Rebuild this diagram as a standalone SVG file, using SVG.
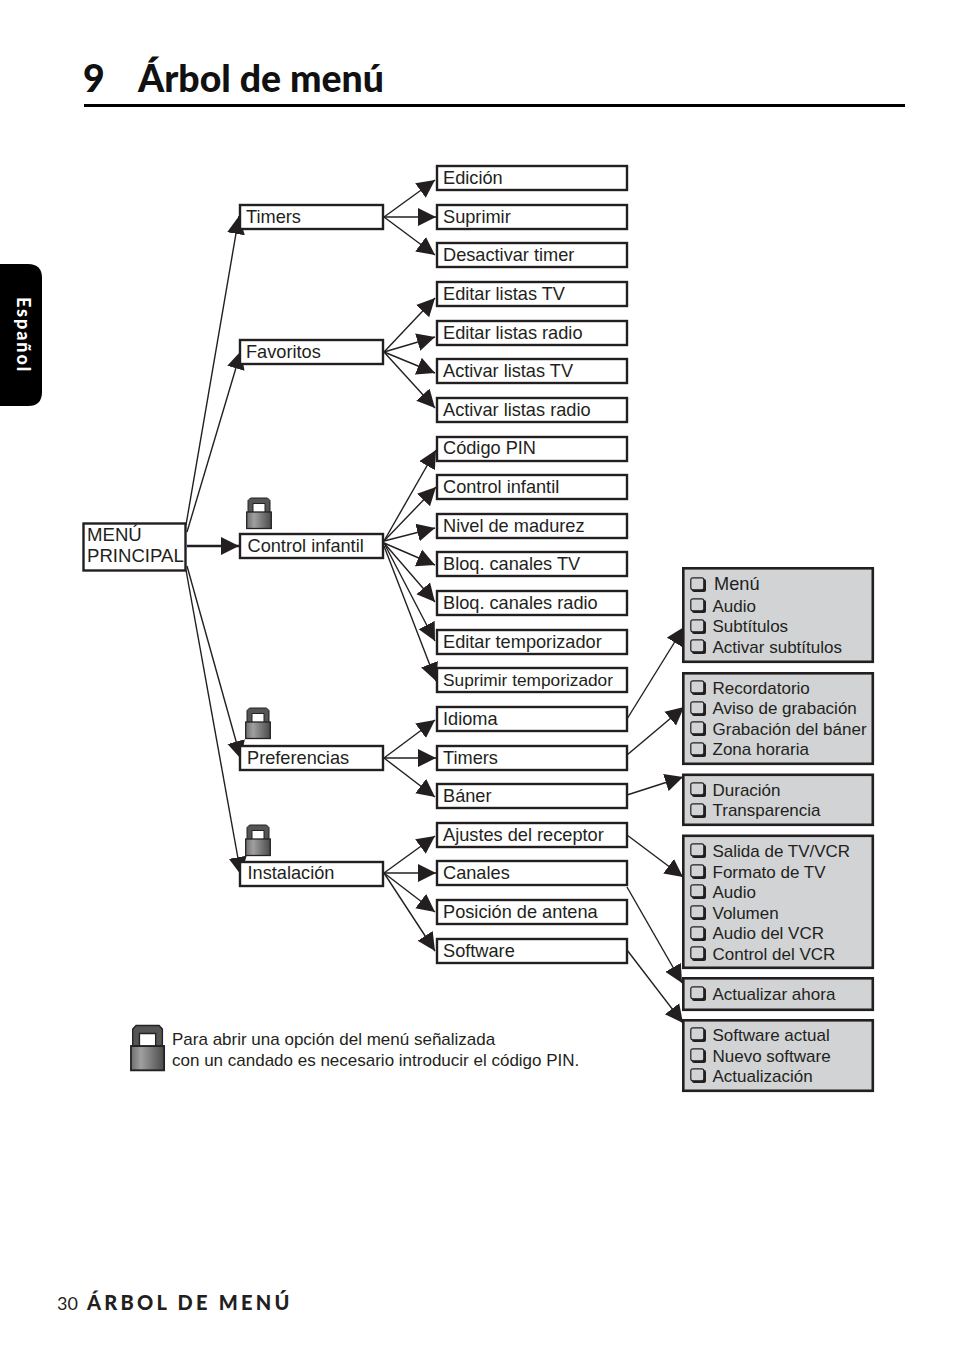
<svg xmlns="http://www.w3.org/2000/svg" width="954" height="1352" viewBox="0 0 954 1352">
<style>
text{font-family:"Liberation Sans",Arial,sans-serif;fill:#231f20}
.t{font-size:18.2px}
.g{font-size:17px}
.b{fill:#fff;stroke:#231f20;stroke-width:2.4}
.s{fill:#d1d3d4;stroke:#231f20;stroke-width:2.6}
.c{fill:none;stroke:#231f20;stroke-width:1.4;marker-end:url(#a)}
</style>
<defs>
<marker id="a" markerUnits="userSpaceOnUse" markerWidth="19" markerHeight="19" viewBox="0 0 19 19" refX="18" refY="9.500" orient="auto"><path d="M0 0.500L18 9.500L0 18.500z" fill="#231f20"/></marker>
<linearGradient id="lg" x1="0" x2="1" y1="0" y2="0"><stop offset="0" stop-color="#6e6e6e"/><stop offset="0.3" stop-color="#a0a0a0"/><stop offset="1" stop-color="#4a4a4a"/></linearGradient>
<g id="cb"><rect x="2" y="2" width="14" height="13" rx="2" fill="#231f20"/><rect x="0.800" y="0.800" width="13" height="12" rx="2" fill="#d1d3d4" stroke="#231f20" stroke-width="1.2"/></g>
<g id="lk"><path fill-rule="evenodd" d="M2 16V3.500L4.500 1H21.500L24 3.500V16zM7 6.500V16H19V6.500z" fill="#555" stroke="#222" stroke-width="1"/><rect x="0.700" y="15" width="24.600" height="16.500" fill="url(#lg)" stroke="#222" stroke-width="1.300"/></g>
</defs>
<rect width="954" height="1352" fill="#fff"/>
<g id="heading">
<text x="83" y="92" style="font-family:Lato,'Open Sans',sans-serif;font-weight:900;font-size:37.400px;fill:#111">9</text>
<text x="138" y="92" style="font-family:Lato,'Open Sans',sans-serif;font-weight:900;font-size:37.400px;fill:#111">Árbol de menú</text>
<rect x="84" y="104" width="821" height="3" fill="#000"/>
</g>
<g id="tab">
<path d="M0 264H28Q42 264 42 278V392Q42 406 28 406H0z" fill="#000"/>
<text transform="translate(16.500 297) rotate(90)" style="font-family:Lato,sans-serif;font-weight:900;font-size:18px;fill:#fff;letter-spacing:1.900px">Español</text>
</g>
<g id="connectors">
<path class="c" d="M186 525L239 216"/>
<path class="c" d="M187 532L241 351"/>
<path class="c" d="M187 546H239" style="stroke-width:2.4"/>
<path class="c" d="M187 566L241 759"/>
<path class="c" d="M186 570L241 875"/>
<path class="c" d="M384 217L435 180"/>
<path class="c" d="M384 217H436"/>
<path class="c" d="M384 217L435 255"/>
<path class="c" d="M384 352L435 298"/>
<path class="c" d="M384 352L435 337"/>
<path class="c" d="M384 352L435 373"/>
<path class="c" d="M384 352L435 408"/>
<path class="c" d="M384 541L436 450"/>
<path class="c" d="M384 541L436 487"/>
<path class="c" d="M384 541L435 528"/>
<path class="c" d="M384 543L435 565"/>
<path class="c" d="M384 543L435 602"/>
<path class="c" d="M384 543L435 641"/>
<path class="c" d="M384 546L436 681"/>
<path class="c" d="M384 758L435 720"/>
<path class="c" d="M384 758H436"/>
<path class="c" d="M384 758L435 797"/>
<path class="c" d="M384 873L435 836"/>
<path class="c" d="M384 873H436"/>
<path class="c" d="M384 873L435 912"/>
<path class="c" d="M384 873L435 951"/>
<path class="c" d="M627 719L684 627"/>
<path class="c" d="M627 755L684 707"/>
<path class="c" d="M627 795L683 777"/>
<path class="c" d="M627 835L683 877"/>
<path class="c" d="M627 887L682 983"/>
<path class="c" d="M627 950L683 1023"/>
</g>
<g id="root"><rect class="b" x="83.500" y="523.500" width="102" height="47"/><text x="87" y="541" style="font-size:18.600px">MENÚ</text><text x="87" y="562" style="font-size:18.600px">PRINCIPAL</text></g>
<g id="n-timers"><rect class="b" x="240" y="205" width="143" height="24"/><text class="t" x="246" y="223">Timers</text></g>
<g id="n-favoritos"><rect class="b" x="240" y="340" width="143" height="24"/><text class="t" x="246" y="358">Favoritos</text></g>
<g id="n-control"><rect class="b" x="240" y="534" width="143" height="24"/><text class="t" x="247.500" y="552">Control infantil</text><use href="#lk" x="246" y="497"/></g>
<g id="n-pref"><rect class="b" x="240" y="746" width="143" height="24"/><text class="t" x="247" y="764">Preferencias</text><use href="#lk" x="245" y="707"/></g>
<g id="n-inst"><rect class="b" x="240" y="862" width="143" height="24"/><text class="t" x="247.500" y="879">Instalación</text><use href="#lk" x="245" y="824"/></g>

<g id="m1"><rect class="b" x="437" y="166" width="190" height="24"/><text class="t" x="443" y="184">Edición</text></g>
<g id="m2"><rect class="b" x="437" y="205" width="190" height="24"/><text class="t" x="443" y="223">Suprimir</text></g>
<g id="m3"><rect class="b" x="437" y="243" width="190" height="24"/><text class="t" x="443" y="261">Desactivar timer</text></g>
<g id="m4"><rect class="b" x="437" y="282" width="190" height="24"/><text class="t" x="443" y="300">Editar listas TV</text></g>
<g id="m5"><rect class="b" x="437" y="321" width="190" height="24"/><text class="t" x="443" y="339">Editar listas radio</text></g>
<g id="m6"><rect class="b" x="437" y="359" width="190" height="24"/><text class="t" x="443" y="377">Activar listas TV</text></g>
<g id="m7"><rect class="b" x="437" y="398" width="190" height="24"/><text class="t" x="443" y="416">Activar listas radio</text></g>
<g id="m8"><rect class="b" x="437" y="437" width="190" height="24"/><text class="t" x="443" y="454">Código PIN</text></g>
<g id="m9"><rect class="b" x="437" y="475" width="190" height="24"/><text class="t" x="443" y="493">Control infantil</text></g>
<g id="m10"><rect class="b" x="437" y="514" width="190" height="24"/><text class="t" x="443" y="532">Nivel de madurez</text></g>
<g id="m11"><rect class="b" x="437" y="552" width="190" height="24"/><text class="t" x="443" y="570">Bloq. canales TV</text></g>
<g id="m12"><rect class="b" x="437" y="591" width="190" height="24"/><text class="t" x="443" y="609">Bloq. canales radio</text></g>
<g id="m13"><rect class="b" x="437" y="630" width="190" height="24"/><text class="t" x="443" y="648">Editar temporizador</text></g>
<g id="m14"><rect class="b" x="437" y="668" width="190" height="24"/><text class="t" x="443" y="686" style="font-size:17.300px">Suprimir temporizador</text></g>
<g id="m15"><rect class="b" x="437" y="707" width="190" height="24"/><text class="t" x="443" y="725">Idioma</text></g>
<g id="m16"><rect class="b" x="437" y="746" width="190" height="24"/><text class="t" x="443" y="764">Timers</text></g>
<g id="m17"><rect class="b" x="437" y="784" width="190" height="24"/><text class="t" x="443" y="802">Báner</text></g>
<g id="m18"><rect class="b" x="437" y="823" width="190" height="24"/><text class="t" x="443" y="841">Ajustes del receptor</text></g>
<g id="m19"><rect class="b" x="437" y="861" width="190" height="24"/><text class="t" x="443" y="879">Canales</text></g>
<g id="m20"><rect class="b" x="437" y="900" width="190" height="24"/><text class="t" x="443" y="918">Posición de antena</text></g>
<g id="m21"><rect class="b" x="437" y="939" width="190" height="24"/><text class="t" x="443" y="957">Software</text></g>

<g id="s1"><rect class="s" x="683.300" y="568.300" width="189.500" height="93.500"/>
<use href="#cb" x="690" y="577"/><text class="t" x="714" y="590">Menú</text>
<use href="#cb" x="690" y="598"/><text class="g" x="712.500" y="612">Audio</text>
<use href="#cb" x="690" y="619"/><text class="g" x="712.500" y="632">Subtítulos</text>
<use href="#cb" x="690" y="639"/><text class="g" x="712.500" y="653">Activar subtítulos</text></g>
<g id="s2"><rect class="s" x="683.300" y="673.300" width="189.500" height="90.500"/>
<use href="#cb" x="690" y="680"/><text class="g" x="712.500" y="694">Recordatorio</text>
<use href="#cb" x="690" y="701"/><text class="g" x="712.500" y="714">Aviso de grabación</text>
<use href="#cb" x="690" y="721"/><text class="g" x="712.500" y="735">Grabación del báner</text>
<use href="#cb" x="690" y="742"/><text class="g" x="712.500" y="755">Zona horaria</text></g>
<g id="s3"><rect class="s" x="683.300" y="774.800" width="189.500" height="50"/>
<use href="#cb" x="690" y="782"/><text class="g" x="712.500" y="796">Duración</text>
<use href="#cb" x="690" y="803"/><text class="g" x="712.500" y="816">Transparencia</text></g>
<g id="s4"><rect class="s" x="683.300" y="835.800" width="189.500" height="132"/>
<use href="#cb" x="690" y="843"/><text class="g" x="712.500" y="857">Salida de TV/VCR</text>
<use href="#cb" x="690" y="864"/><text class="g" x="712.500" y="878">Formato de TV</text>
<use href="#cb" x="690" y="884"/><text class="g" x="712.500" y="898">Audio</text>
<use href="#cb" x="690" y="905"/><text class="g" x="712.500" y="919">Volumen</text>
<use href="#cb" x="690" y="926"/><text class="g" x="712.500" y="939">Audio del VCR</text>
<use href="#cb" x="690" y="946"/><text class="g" x="712.500" y="960">Control del VCR</text></g>
<g id="s5"><rect class="s" x="683.300" y="978.300" width="189.500" height="31.500"/>
<use href="#cb" x="690" y="986"/><text class="g" x="712.500" y="1000">Actualizar ahora</text></g>
<g id="s6"><rect class="s" x="683.300" y="1020.300" width="189.500" height="70.500"/>
<use href="#cb" x="690" y="1027"/><text class="g" x="712.500" y="1041">Software actual</text>
<use href="#cb" x="690" y="1048"/><text class="g" x="712.500" y="1062">Nuevo software</text>
<use href="#cb" x="690" y="1068"/><text class="g" x="712.500" y="1082">Actualización</text></g>

<g id="legend"><use href="#lk" transform="translate(130 1024) scale(1.350 1.470)"/>
<text x="172" y="1045" style="font-size:17px">Para abrir una opción del menú señalizada</text>
<text x="172" y="1066" style="font-size:17px">con un candado es necesario introducir el código PIN.</text></g>
<g id="footer"><text x="57" y="1310" style="font-family:Lato,sans-serif;font-size:18px">30</text>
<text x="87" y="1310" style="font-family:Lato,sans-serif;font-weight:900;font-size:20px;letter-spacing:3.250px" xml:space="preserve">ÁRBOL DE MENÚ</text></g>
</svg>
